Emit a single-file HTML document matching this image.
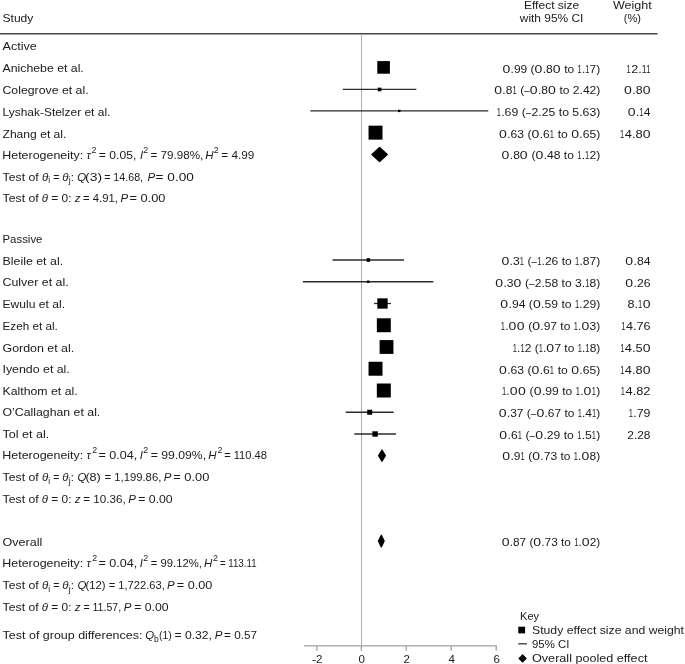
<!DOCTYPE html>
<html><head><meta charset="utf-8"><style>
html,body{margin:0;padding:0;background:#fff;width:685px;height:664px;overflow:hidden}
svg{display:block;will-change:transform}
text{font-family:"Liberation Sans",sans-serif;font-size:11.5px;fill:#1a1a1a}
</style></head><body>
<svg width="685" height="664" viewBox="0 0 685 664">
<text id="h_study" x="2.50" y="22.20" textLength="30.89" lengthAdjust="spacingAndGlyphs">Study</text>
<text id="h_es" x="551.60" y="9.10" text-anchor="middle" textLength="55.24" lengthAdjust="spacingAndGlyphs">Effect size</text>
<text id="h_ci" x="551.60" y="22.40" text-anchor="middle" textLength="63.63" lengthAdjust="spacingAndGlyphs">with 95% CI</text>
<text id="h_w" x="632.40" y="9.10" text-anchor="middle" textLength="38.74" lengthAdjust="spacingAndGlyphs">Weight</text>
<text id="h_pct" x="632.40" y="22.40" text-anchor="middle" textLength="17.27" lengthAdjust="spacingAndGlyphs">(%)</text>
<line x1="0" y1="33.7" x2="657.6" y2="33.7" stroke="#444" stroke-width="1.45"/>
<line x1="361.55" y1="34" x2="361.55" y2="645.5" stroke="#adadad" stroke-width="1"/>
<text id="a_lab" x="2.50" y="50.40" textLength="34.39" lengthAdjust="spacingAndGlyphs">Active</text>
<text id="a0_n" x="2.50" y="72.25" textLength="81.29" lengthAdjust="spacingAndGlyphs">Anichebe et al.</text>
<text id="a0_c" x="600.30" y="72.55" text-anchor="end" textLength="97.83" lengthAdjust="spacingAndGlyphs"><tspan textLength="7.80" lengthAdjust="spacingAndGlyphs">0</tspan>.99 (<tspan textLength="7.80" lengthAdjust="spacingAndGlyphs">0</tspan>.8<tspan textLength="7.80" lengthAdjust="spacingAndGlyphs">0</tspan> to <tspan textLength="4.20" lengthAdjust="spacingAndGlyphs">1</tspan>.<tspan textLength="4.20" lengthAdjust="spacingAndGlyphs">1</tspan>7)</text>
<text id="a0_w" x="650.50" y="72.55" text-anchor="end" textLength="24.32" lengthAdjust="spacingAndGlyphs"><tspan textLength="4.20" lengthAdjust="spacingAndGlyphs">1</tspan>2.<tspan textLength="4.20" lengthAdjust="spacingAndGlyphs">1</tspan><tspan textLength="4.20" lengthAdjust="spacingAndGlyphs">1</tspan></text>
<line x1="379.34" y1="67.40" x2="387.63" y2="67.40" stroke="#2b2b2b" stroke-width="1.3" stroke-linecap="square"/>
<rect x="377.28" y="61.08" width="12.63" height="12.63" fill="#000"/>
<text id="a1_n" x="2.50" y="94.00" textLength="86.05" lengthAdjust="spacingAndGlyphs">Colegrove et al.</text>
<text id="a1_c" x="600.30" y="93.95" text-anchor="end" textLength="106.08" lengthAdjust="spacingAndGlyphs"><tspan textLength="7.80" lengthAdjust="spacingAndGlyphs">0</tspan>.8<tspan textLength="4.20" lengthAdjust="spacingAndGlyphs">1</tspan> (<tspan textLength="5.40" lengthAdjust="spacingAndGlyphs">–</tspan><tspan textLength="7.80" lengthAdjust="spacingAndGlyphs">0</tspan>.8<tspan textLength="7.80" lengthAdjust="spacingAndGlyphs">0</tspan> to 2.42)</text>
<text id="a1_w" x="650.50" y="93.95" text-anchor="end" textLength="27.12" lengthAdjust="spacingAndGlyphs"><tspan textLength="7.80" lengthAdjust="spacingAndGlyphs">0</tspan>.8<tspan textLength="7.80" lengthAdjust="spacingAndGlyphs">0</tspan></text>
<line x1="343.46" y1="89.45" x2="415.66" y2="89.45" stroke="#2b2b2b" stroke-width="1.3" stroke-linecap="square"/>
<rect x="377.76" y="87.65" width="3.60" height="3.60" fill="#000"/>
<text id="a2_n" x="2.50" y="116.00" textLength="107.88" lengthAdjust="spacingAndGlyphs">Lyshak-Stelzer et al.</text>
<text id="a2_c" x="600.30" y="115.75" text-anchor="end" textLength="103.58" lengthAdjust="spacingAndGlyphs"><tspan textLength="4.20" lengthAdjust="spacingAndGlyphs">1</tspan>.69 (<tspan textLength="5.40" lengthAdjust="spacingAndGlyphs">–</tspan>2.25 to 5.63)</text>
<text id="a2_w" x="650.50" y="115.75" text-anchor="end" textLength="22.72" lengthAdjust="spacingAndGlyphs"><tspan textLength="7.80" lengthAdjust="spacingAndGlyphs">0</tspan>.<tspan textLength="4.20" lengthAdjust="spacingAndGlyphs">1</tspan>4</text>
<line x1="310.95" y1="110.90" x2="487.62" y2="110.90" stroke="#2b2b2b" stroke-width="1.3" stroke-linecap="square"/>
<rect x="398.09" y="109.70" width="2.40" height="2.40" fill="#000"/>
<text id="a3_n" x="2.50" y="137.80" textLength="63.88" lengthAdjust="spacingAndGlyphs">Zhang et al.</text>
<text id="a3_c" x="600.30" y="137.60" text-anchor="end" textLength="101.31" lengthAdjust="spacingAndGlyphs"><tspan textLength="7.80" lengthAdjust="spacingAndGlyphs">0</tspan>.63 (<tspan textLength="7.80" lengthAdjust="spacingAndGlyphs">0</tspan>.6<tspan textLength="4.20" lengthAdjust="spacingAndGlyphs">1</tspan> to <tspan textLength="7.80" lengthAdjust="spacingAndGlyphs">0</tspan>.65)</text>
<text id="a3_w" x="650.50" y="137.60" text-anchor="end" textLength="31.49" lengthAdjust="spacingAndGlyphs"><tspan textLength="4.20" lengthAdjust="spacingAndGlyphs">1</tspan>4.8<tspan textLength="7.80" lengthAdjust="spacingAndGlyphs">0</tspan></text>
<line x1="375.08" y1="132.65" x2="375.97" y2="132.65" stroke="#2b2b2b" stroke-width="1.3" stroke-linecap="square"/>
<rect x="368.54" y="125.67" width="13.96" height="13.96" fill="#000"/>
<text x="2.5" y="159.30"><tspan x="2.28" dy="0.0" textLength="80.85" lengthAdjust="spacingAndGlyphs">Heterogeneity:</tspan><tspan x="86.48" dy="0.0" font-style="italic">τ</tspan><tspan x="91.56" dy="-6.0" font-size="8.8">2</tspan><tspan x="98.81" dy="6.0" textLength="37.48" lengthAdjust="spacingAndGlyphs">= 0.05,</tspan><tspan x="139.95" dy="0.0" font-style="italic">I</tspan><tspan x="143.26" dy="-6.0" font-size="8.8">2</tspan><tspan x="150.43" dy="6.0" textLength="52.82" lengthAdjust="spacingAndGlyphs">= 79.98%,</tspan><tspan x="205.15" dy="0.0" font-style="italic">H</tspan><tspan x="213.76" dy="-6.0" font-size="8.8">2</tspan><tspan x="221.33" dy="6.0" textLength="33.03" lengthAdjust="spacingAndGlyphs">= 4.99</tspan></text>
<text id="a_het_c" x="600.30" y="159.40" text-anchor="end" textLength="98.73" lengthAdjust="spacingAndGlyphs"><tspan textLength="7.80" lengthAdjust="spacingAndGlyphs">0</tspan>.8<tspan textLength="7.80" lengthAdjust="spacingAndGlyphs">0</tspan> (<tspan textLength="7.80" lengthAdjust="spacingAndGlyphs">0</tspan>.48 to <tspan textLength="4.20" lengthAdjust="spacingAndGlyphs">1</tspan>.<tspan textLength="4.20" lengthAdjust="spacingAndGlyphs">1</tspan>2)</text>
<polygon points="371.95,154.55 379.60,147.55 387.25,154.55 379.60,161.55" fill="#000" stroke="#000" stroke-width="1.3" stroke-linejoin="round"/>
<text x="2.5" y="180.60"><tspan x="2.64" dy="0.0" textLength="36.05" lengthAdjust="spacingAndGlyphs">Test of</tspan><tspan x="42.03" dy="0.0" font-style="italic">θ</tspan><tspan x="48.13" dy="2.8" font-size="8.5">i</tspan><tspan x="53.29" dy="-2.8" textLength="6.13" lengthAdjust="spacingAndGlyphs">=</tspan><tspan x="62.13" dy="0.0" font-style="italic">θ</tspan><tspan x="68.81" dy="2.8" font-size="8.5">j</tspan><tspan x="70.65" dy="-2.8">:</tspan><tspan x="77.23" dy="0.0" font-style="italic">Q</tspan><tspan x="85.14" dy="0.0" textLength="17.03" lengthAdjust="spacingAndGlyphs">(3)</tspan><tspan x="104.18" dy="0.0" textLength="38.88" lengthAdjust="spacingAndGlyphs">= 14.68,</tspan><tspan x="147.45" dy="0.0" font-style="italic">P</tspan><tspan x="155.64" dy="0.0" textLength="38.20" lengthAdjust="spacingAndGlyphs">= 0.00</tspan></text>
<text x="2.5" y="202.20"><tspan x="2.64" dy="0.0" textLength="36.05" lengthAdjust="spacingAndGlyphs">Test of</tspan><tspan x="41.83" dy="0.0" font-style="italic">θ</tspan><tspan x="51.32" dy="0.0" textLength="20.17" lengthAdjust="spacingAndGlyphs">= 0:</tspan><tspan x="74.67" dy="0.0" font-style="italic">z</tspan><tspan x="83.05" dy="0.0" textLength="34.87" lengthAdjust="spacingAndGlyphs">= 4.91,</tspan><tspan x="120.55" dy="0.0" font-style="italic">P</tspan><tspan x="129.48" dy="0.0" textLength="35.92" lengthAdjust="spacingAndGlyphs">= 0.00</tspan></text>
<text id="p_lab" x="2.50" y="243.00" textLength="39.93" lengthAdjust="spacingAndGlyphs">Passive</text>
<text id="p0_n" x="2.50" y="264.65" textLength="60.60" lengthAdjust="spacingAndGlyphs">Bleile et al.</text>
<text id="p0_c" x="600.30" y="265.15" text-anchor="end" textLength="98.88" lengthAdjust="spacingAndGlyphs"><tspan textLength="7.80" lengthAdjust="spacingAndGlyphs">0</tspan>.3<tspan textLength="4.20" lengthAdjust="spacingAndGlyphs">1</tspan> (<tspan textLength="5.40" lengthAdjust="spacingAndGlyphs">–</tspan><tspan textLength="4.20" lengthAdjust="spacingAndGlyphs">1</tspan>.26 to <tspan textLength="4.20" lengthAdjust="spacingAndGlyphs">1</tspan>.87)</text>
<text id="p0_w" x="650.50" y="265.15" text-anchor="end" textLength="25.29" lengthAdjust="spacingAndGlyphs"><tspan textLength="7.80" lengthAdjust="spacingAndGlyphs">0</tspan>.84</text>
<line x1="333.15" y1="260.00" x2="403.33" y2="260.00" stroke="#2b2b2b" stroke-width="1.3" stroke-linecap="square"/>
<rect x="366.55" y="258.20" width="3.60" height="3.60" fill="#000"/>
<text id="p1_n" x="2.50" y="286.30" textLength="66.13" lengthAdjust="spacingAndGlyphs">Culver et al.</text>
<text id="p1_c" x="600.30" y="286.82" text-anchor="end" textLength="105.03" lengthAdjust="spacingAndGlyphs"><tspan textLength="7.80" lengthAdjust="spacingAndGlyphs">0</tspan>.3<tspan textLength="7.80" lengthAdjust="spacingAndGlyphs">0</tspan> (<tspan textLength="5.40" lengthAdjust="spacingAndGlyphs">–</tspan>2.58 to 3.<tspan textLength="4.20" lengthAdjust="spacingAndGlyphs">1</tspan>8)</text>
<text id="p1_w" x="650.50" y="286.82" text-anchor="end" textLength="25.19" lengthAdjust="spacingAndGlyphs"><tspan textLength="7.80" lengthAdjust="spacingAndGlyphs">0</tspan>.26</text>
<line x1="303.56" y1="281.75" x2="432.70" y2="281.75" stroke="#2b2b2b" stroke-width="1.3" stroke-linecap="square"/>
<rect x="366.88" y="280.50" width="2.50" height="2.50" fill="#000"/>
<text id="p2_n" x="2.50" y="307.95" textLength="62.55" lengthAdjust="spacingAndGlyphs">Ewulu et al.</text>
<text id="p2_c" x="600.30" y="308.49" text-anchor="end" textLength="99.96" lengthAdjust="spacingAndGlyphs"><tspan textLength="7.80" lengthAdjust="spacingAndGlyphs">0</tspan>.94 (<tspan textLength="7.80" lengthAdjust="spacingAndGlyphs">0</tspan>.59 to <tspan textLength="4.20" lengthAdjust="spacingAndGlyphs">1</tspan>.29)</text>
<text id="p2_w" x="650.50" y="308.49" text-anchor="end" textLength="23.72" lengthAdjust="spacingAndGlyphs">8.<tspan textLength="4.20" lengthAdjust="spacingAndGlyphs">1</tspan><tspan textLength="7.80" lengthAdjust="spacingAndGlyphs">0</tspan></text>
<line x1="374.63" y1="303.50" x2="390.32" y2="303.50" stroke="#2b2b2b" stroke-width="1.3" stroke-linecap="square"/>
<rect x="377.31" y="298.33" width="10.33" height="10.33" fill="#000"/>
<text id="p3_n" x="2.50" y="329.60" textLength="55.30" lengthAdjust="spacingAndGlyphs">Ezeh et al.</text>
<text id="p3_c" x="600.30" y="330.16" text-anchor="end" textLength="99.46" lengthAdjust="spacingAndGlyphs"><tspan textLength="4.20" lengthAdjust="spacingAndGlyphs">1</tspan>.<tspan textLength="7.80" lengthAdjust="spacingAndGlyphs">0</tspan><tspan textLength="7.80" lengthAdjust="spacingAndGlyphs">0</tspan> (<tspan textLength="7.80" lengthAdjust="spacingAndGlyphs">0</tspan>.97 to <tspan textLength="4.20" lengthAdjust="spacingAndGlyphs">1</tspan>.<tspan textLength="7.80" lengthAdjust="spacingAndGlyphs">0</tspan>3)</text>
<text id="p3_w" x="650.50" y="330.16" text-anchor="end" textLength="29.16" lengthAdjust="spacingAndGlyphs"><tspan textLength="4.20" lengthAdjust="spacingAndGlyphs">1</tspan>4.76</text>
<line x1="383.15" y1="325.25" x2="384.49" y2="325.25" stroke="#2b2b2b" stroke-width="1.3" stroke-linecap="square"/>
<rect x="376.85" y="318.28" width="13.95" height="13.95" fill="#000"/>
<text id="p4_n" x="2.50" y="352.25" textLength="71.68" lengthAdjust="spacingAndGlyphs">Gordon et al.</text>
<text id="p4_c" x="600.30" y="351.83" text-anchor="end" textLength="87.58" lengthAdjust="spacingAndGlyphs"><tspan textLength="4.20" lengthAdjust="spacingAndGlyphs">1</tspan>.<tspan textLength="4.20" lengthAdjust="spacingAndGlyphs">1</tspan>2 (<tspan textLength="4.20" lengthAdjust="spacingAndGlyphs">1</tspan>.<tspan textLength="7.80" lengthAdjust="spacingAndGlyphs">0</tspan>7 to <tspan textLength="4.20" lengthAdjust="spacingAndGlyphs">1</tspan>.<tspan textLength="4.20" lengthAdjust="spacingAndGlyphs">1</tspan>8)</text>
<text id="p4_w" x="650.50" y="351.83" text-anchor="end" textLength="31.19" lengthAdjust="spacingAndGlyphs"><tspan textLength="4.20" lengthAdjust="spacingAndGlyphs">1</tspan>4.5<tspan textLength="7.80" lengthAdjust="spacingAndGlyphs">0</tspan></text>
<line x1="385.39" y1="347.00" x2="387.86" y2="347.00" stroke="#2b2b2b" stroke-width="1.3" stroke-linecap="square"/>
<rect x="379.60" y="340.09" width="13.82" height="13.82" fill="#000"/>
<text id="p5_n" x="2.50" y="372.90" textLength="67.29" lengthAdjust="spacingAndGlyphs">Iyendo et al.</text>
<text id="p5_c" x="600.30" y="373.50" text-anchor="end" textLength="101.31" lengthAdjust="spacingAndGlyphs"><tspan textLength="7.80" lengthAdjust="spacingAndGlyphs">0</tspan>.63 (<tspan textLength="7.80" lengthAdjust="spacingAndGlyphs">0</tspan>.6<tspan textLength="4.20" lengthAdjust="spacingAndGlyphs">1</tspan> to <tspan textLength="7.80" lengthAdjust="spacingAndGlyphs">0</tspan>.65)</text>
<text id="p5_w" x="650.50" y="373.50" text-anchor="end" textLength="31.29" lengthAdjust="spacingAndGlyphs"><tspan textLength="4.20" lengthAdjust="spacingAndGlyphs">1</tspan>4.8<tspan textLength="7.80" lengthAdjust="spacingAndGlyphs">0</tspan></text>
<line x1="375.08" y1="368.75" x2="375.97" y2="368.75" stroke="#2b2b2b" stroke-width="1.3" stroke-linecap="square"/>
<rect x="368.54" y="361.77" width="13.96" height="13.96" fill="#000"/>
<text id="p6_n" x="2.50" y="394.55" textLength="75.18" lengthAdjust="spacingAndGlyphs">Kalthom et al.</text>
<text id="p6_c" x="600.30" y="395.17" text-anchor="end" textLength="98.39" lengthAdjust="spacingAndGlyphs"><tspan textLength="4.20" lengthAdjust="spacingAndGlyphs">1</tspan>.<tspan textLength="7.80" lengthAdjust="spacingAndGlyphs">0</tspan><tspan textLength="7.80" lengthAdjust="spacingAndGlyphs">0</tspan> (<tspan textLength="7.80" lengthAdjust="spacingAndGlyphs">0</tspan>.99 to <tspan textLength="4.20" lengthAdjust="spacingAndGlyphs">1</tspan>.<tspan textLength="7.80" lengthAdjust="spacingAndGlyphs">0</tspan><tspan textLength="4.20" lengthAdjust="spacingAndGlyphs">1</tspan>)</text>
<text id="p6_w" x="650.50" y="395.17" text-anchor="end" textLength="29.66" lengthAdjust="spacingAndGlyphs"><tspan textLength="4.20" lengthAdjust="spacingAndGlyphs">1</tspan>4.82</text>
<line x1="383.60" y1="390.50" x2="384.04" y2="390.50" stroke="#2b2b2b" stroke-width="1.3" stroke-linecap="square"/>
<rect x="376.83" y="383.51" width="13.97" height="13.97" fill="#000"/>
<text id="p7_n" x="2.50" y="416.20" textLength="97.79" lengthAdjust="spacingAndGlyphs">O’Callaghan et al.</text>
<text id="p7_c" x="600.30" y="416.84" text-anchor="end" textLength="101.46" lengthAdjust="spacingAndGlyphs"><tspan textLength="7.80" lengthAdjust="spacingAndGlyphs">0</tspan>.37 (<tspan textLength="5.40" lengthAdjust="spacingAndGlyphs">–</tspan><tspan textLength="7.80" lengthAdjust="spacingAndGlyphs">0</tspan>.67 to <tspan textLength="4.20" lengthAdjust="spacingAndGlyphs">1</tspan>.4<tspan textLength="4.20" lengthAdjust="spacingAndGlyphs">1</tspan>)</text>
<text id="p7_w" x="650.50" y="416.84" text-anchor="end" textLength="21.79" lengthAdjust="spacingAndGlyphs"><tspan textLength="4.20" lengthAdjust="spacingAndGlyphs">1</tspan>.79</text>
<line x1="346.38" y1="412.25" x2="393.01" y2="412.25" stroke="#2b2b2b" stroke-width="1.3" stroke-linecap="square"/>
<rect x="367.20" y="409.75" width="5.00" height="5.00" fill="#000"/>
<text id="p8_n" x="2.50" y="437.85" textLength="46.70" lengthAdjust="spacingAndGlyphs">Tol et al.</text>
<text id="p8_c" x="600.30" y="438.51" text-anchor="end" textLength="101.01" lengthAdjust="spacingAndGlyphs"><tspan textLength="7.80" lengthAdjust="spacingAndGlyphs">0</tspan>.6<tspan textLength="4.20" lengthAdjust="spacingAndGlyphs">1</tspan> (<tspan textLength="5.40" lengthAdjust="spacingAndGlyphs">–</tspan><tspan textLength="7.80" lengthAdjust="spacingAndGlyphs">0</tspan>.29 to <tspan textLength="4.20" lengthAdjust="spacingAndGlyphs">1</tspan>.5<tspan textLength="4.20" lengthAdjust="spacingAndGlyphs">1</tspan>)</text>
<text id="p8_w" x="650.50" y="438.51" text-anchor="end" textLength="23.16" lengthAdjust="spacingAndGlyphs">2.28</text>
<line x1="354.90" y1="434.00" x2="395.25" y2="434.00" stroke="#2b2b2b" stroke-width="1.3" stroke-linecap="square"/>
<rect x="372.38" y="431.30" width="5.40" height="5.40" fill="#000"/>
<text x="2.5" y="458.90"><tspan x="2.28" dy="0.0" textLength="80.96" lengthAdjust="spacingAndGlyphs">Heterogeneity:</tspan><tspan x="86.48" dy="0.0" font-style="italic">τ</tspan><tspan x="92.16" dy="-6.0" font-size="8.8">2</tspan><tspan x="98.49" dy="6.0" textLength="38.85" lengthAdjust="spacingAndGlyphs">= 0.04,</tspan><tspan x="139.85" dy="0.0" font-style="italic">I</tspan><tspan x="143.36" dy="-6.0" font-size="8.8">2</tspan><tspan x="150.80" dy="6.0" textLength="55.29" lengthAdjust="spacingAndGlyphs">= 99.09%,</tspan><tspan x="208.35" dy="0.0" font-style="italic">H</tspan><tspan x="217.46" dy="-6.0" font-size="8.8">2</tspan><tspan x="224.17" dy="6.0" textLength="42.71" lengthAdjust="spacingAndGlyphs">= 110.48</tspan></text>
<text id="p_het_c" x="600.30" y="460.18" text-anchor="end" textLength="97.93" lengthAdjust="spacingAndGlyphs"><tspan textLength="7.80" lengthAdjust="spacingAndGlyphs">0</tspan>.9<tspan textLength="4.20" lengthAdjust="spacingAndGlyphs">1</tspan> (<tspan textLength="7.80" lengthAdjust="spacingAndGlyphs">0</tspan>.73 to <tspan textLength="4.20" lengthAdjust="spacingAndGlyphs">1</tspan>.<tspan textLength="7.80" lengthAdjust="spacingAndGlyphs">0</tspan>8)</text>
<polygon points="378.65,455.70 382.00,450.15 385.35,455.70 382.00,461.25" fill="#000" stroke="#000" stroke-width="1.3" stroke-linejoin="round"/>
<text x="2.5" y="481.15"><tspan x="2.64" dy="0.0" textLength="36.05" lengthAdjust="spacingAndGlyphs">Test of</tspan><tspan x="42.03" dy="0.0" font-style="italic">θ</tspan><tspan x="48.13" dy="2.8" font-size="8.5">i</tspan><tspan x="53.29" dy="-2.8" textLength="6.13" lengthAdjust="spacingAndGlyphs">=</tspan><tspan x="62.13" dy="0.0" font-style="italic">θ</tspan><tspan x="68.81" dy="2.8" font-size="8.5">j</tspan><tspan x="70.65" dy="-2.8">:</tspan><tspan x="77.53" dy="0.0" font-style="italic">Q</tspan><tspan x="85.42" dy="0.0" textLength="15.36" lengthAdjust="spacingAndGlyphs">(8)</tspan><tspan x="104.55" dy="0.0" textLength="56.76" lengthAdjust="spacingAndGlyphs">= 1,199.86,</tspan><tspan x="163.75" dy="0.0" font-style="italic">P</tspan><tspan x="173.27" dy="0.0" textLength="36.03" lengthAdjust="spacingAndGlyphs">= 0.00</tspan></text>
<text x="2.5" y="502.80"><tspan x="2.64" dy="0.0" textLength="36.05" lengthAdjust="spacingAndGlyphs">Test of</tspan><tspan x="41.83" dy="0.0" font-style="italic">θ</tspan><tspan x="51.32" dy="0.0" textLength="20.17" lengthAdjust="spacingAndGlyphs">= 0:</tspan><tspan x="74.67" dy="0.0" font-style="italic">z</tspan><tspan x="83.33" dy="0.0" textLength="42.41" lengthAdjust="spacingAndGlyphs">= 10.36,</tspan><tspan x="128.15" dy="0.0" font-style="italic">P</tspan><tspan x="138.30" dy="0.0" textLength="34.38" lengthAdjust="spacingAndGlyphs">= 0.00</tspan></text>
<text id="o_lab" x="2.50" y="546.00" textLength="39.92" lengthAdjust="spacingAndGlyphs">Overall</text>
<text id="o_c" x="600.30" y="546.25" text-anchor="end" textLength="98.59" lengthAdjust="spacingAndGlyphs"><tspan textLength="7.80" lengthAdjust="spacingAndGlyphs">0</tspan>.87 (<tspan textLength="7.80" lengthAdjust="spacingAndGlyphs">0</tspan>.73 to <tspan textLength="4.20" lengthAdjust="spacingAndGlyphs">1</tspan>.<tspan textLength="7.80" lengthAdjust="spacingAndGlyphs">0</tspan>2)</text>
<polygon points="378.45,541.05 381.30,535.25 384.15,541.05 381.30,546.85" fill="#000" stroke="#000" stroke-width="1.3" stroke-linejoin="round"/>
<text x="2.5" y="567.05"><tspan x="2.28" dy="0.0" textLength="80.96" lengthAdjust="spacingAndGlyphs">Heterogeneity:</tspan><tspan x="86.48" dy="0.0" font-style="italic">τ</tspan><tspan x="92.16" dy="-6.0" font-size="8.8">2</tspan><tspan x="98.49" dy="6.0" textLength="38.85" lengthAdjust="spacingAndGlyphs">= 0.04,</tspan><tspan x="139.85" dy="0.0" font-style="italic">I</tspan><tspan x="143.36" dy="-6.0" font-size="8.8">2</tspan><tspan x="150.85" dy="6.0" textLength="51.06" lengthAdjust="spacingAndGlyphs">= 99.12%,</tspan><tspan x="203.95" dy="0.0" font-style="italic">H</tspan><tspan x="212.96" dy="-6.0" font-size="8.8">2</tspan><tspan x="219.94" dy="6.0" textLength="36.61" lengthAdjust="spacingAndGlyphs">= 113.11</tspan></text>
<text x="2.5" y="589.10"><tspan x="2.64" dy="0.0" textLength="36.05" lengthAdjust="spacingAndGlyphs">Test of</tspan><tspan x="42.03" dy="0.0" font-style="italic">θ</tspan><tspan x="48.13" dy="2.8" font-size="8.5">i</tspan><tspan x="53.29" dy="-2.8" textLength="6.13" lengthAdjust="spacingAndGlyphs">=</tspan><tspan x="62.13" dy="0.0" font-style="italic">θ</tspan><tspan x="68.81" dy="2.8" font-size="8.5">j</tspan><tspan x="70.65" dy="-2.8">:</tspan><tspan x="77.53" dy="0.0" font-style="italic">Q</tspan><tspan x="85.50" dy="0.0" textLength="19.99" lengthAdjust="spacingAndGlyphs">(12)</tspan><tspan x="108.65" dy="0.0" textLength="56.25" lengthAdjust="spacingAndGlyphs">= 1,722.63,</tspan><tspan x="167.05" dy="0.0" font-style="italic">P</tspan><tspan x="176.78" dy="0.0" textLength="35.51" lengthAdjust="spacingAndGlyphs">= 0.00</tspan></text>
<text x="2.5" y="610.65"><tspan x="2.64" dy="0.0" textLength="36.05" lengthAdjust="spacingAndGlyphs">Test of</tspan><tspan x="41.83" dy="0.0" font-style="italic">θ</tspan><tspan x="51.32" dy="0.0" textLength="20.17" lengthAdjust="spacingAndGlyphs">= 0:</tspan><tspan x="74.67" dy="0.0" font-style="italic">z</tspan><tspan x="83.39" dy="0.0" textLength="37.74" lengthAdjust="spacingAndGlyphs">= 11.57,</tspan><tspan x="123.75" dy="0.0" font-style="italic">P</tspan><tspan x="134.20" dy="0.0" textLength="34.38" lengthAdjust="spacingAndGlyphs">= 0.00</tspan></text>
<text x="2.5" y="639.20"><tspan x="2.62" dy="0.0" textLength="139.80" lengthAdjust="spacingAndGlyphs">Test of group differences:</tspan><tspan x="145.33" dy="0.0" font-style="italic">Q</tspan><tspan x="154.05" dy="2.8" font-size="8.5">b</tspan><tspan x="159.06" dy="-2.8" textLength="12.58" lengthAdjust="spacingAndGlyphs">(1)</tspan><tspan x="174.51" dy="0.0" textLength="37.48" lengthAdjust="spacingAndGlyphs">= 0.32,</tspan><tspan x="214.65" dy="0.0" font-style="italic">P</tspan><tspan x="224.13" dy="0.0" textLength="32.86" lengthAdjust="spacingAndGlyphs">= 0.57</tspan></text>
<g stroke="#a0a0a0" stroke-width="1.3" fill="none">
<line x1="303.8" y1="645.9" x2="496.85" y2="645.9"/>
<line x1="316.90" y1="645.9" x2="316.90" y2="650.7"/>
<line x1="361.40" y1="645.9" x2="361.40" y2="650.7"/>
<line x1="406.20" y1="645.9" x2="406.20" y2="650.7"/>
<line x1="451.20" y1="645.9" x2="451.20" y2="650.7"/>
<line x1="496.20" y1="645.9" x2="496.20" y2="650.7"/>
</g>
<text x="317.30" y="663.30" text-anchor="middle" font-size="9.5"><tspan textLength="3.6" lengthAdjust="spacingAndGlyphs">–</tspan>2</text>
<text x="361.80" y="663.30" text-anchor="middle" font-size="9.5">0</text>
<text x="406.60" y="663.30" text-anchor="middle" font-size="9.5">2</text>
<text x="451.60" y="663.30" text-anchor="middle" font-size="9.5">4</text>
<text x="496.60" y="663.30" text-anchor="middle" font-size="9.5">6</text>
<text id="k_key" x="520.00" y="620.20" font-size="10" textLength="19.09" lengthAdjust="spacingAndGlyphs">Key</text>
<rect x="518.3" y="626.7" width="6.8" height="6.7" fill="#000"/>
<text id="k_study" x="532.00" y="633.60" font-size="11" textLength="152.00" lengthAdjust="spacingAndGlyphs">Study effect size and weight</text>
<line x1="518.3" y1="643.8" x2="526.9" y2="643.8" stroke="#333" stroke-width="1.3"/>
<text id="k_ci" x="532.00" y="647.60" font-size="11" textLength="37.36" lengthAdjust="spacingAndGlyphs">95% CI</text>
<polygon points="518.3,658.4 522.6,654.1 526.9,658.4 522.6,662.7" fill="#000"/>
<text id="k_ov" x="532.00" y="661.60" font-size="11" textLength="115.46" lengthAdjust="spacingAndGlyphs">Overall pooled effect</text>
</svg>
</body></html>
